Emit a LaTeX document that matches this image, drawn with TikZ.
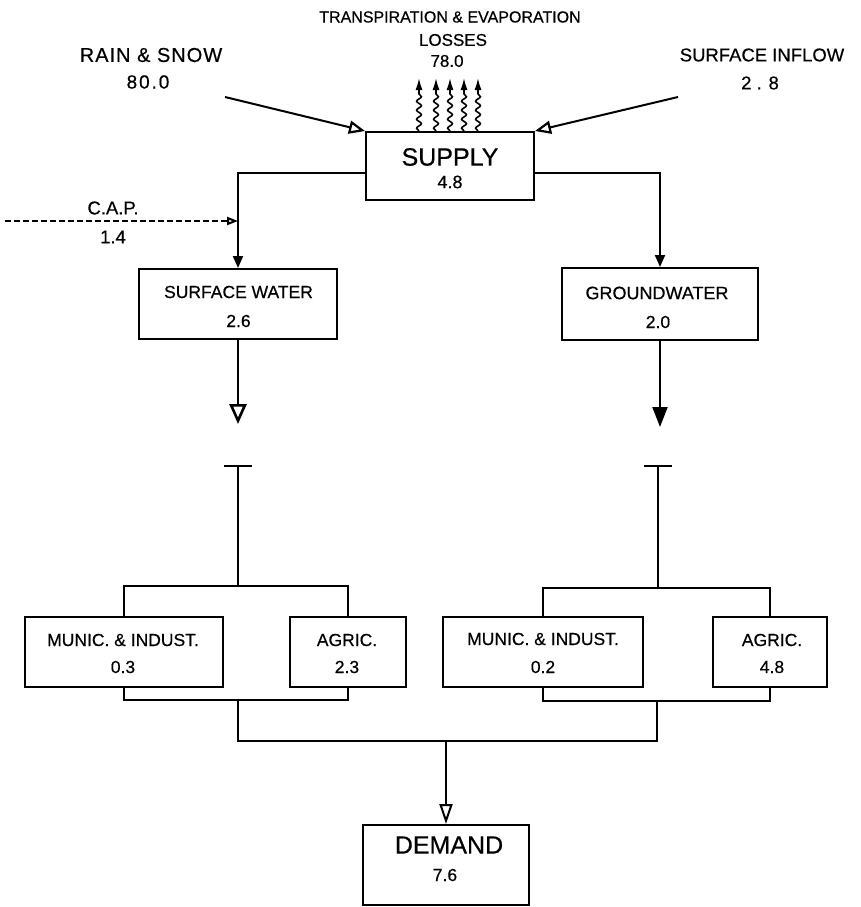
\documentclass[tikz,border=0pt]{standalone}
\usepackage{fontspec}
\setmainfont{Liberation Sans}[FakeBold=0.5]
\usetikzlibrary{arrows.meta,decorations.pathmorphing,calc}
\newcommand\myfs[1]{\fontsize{#1}{#1}\selectfont}
\begin{document}
\begin{tikzpicture}[x=1pt,y=-1pt,line width=2pt,
  box/.style={draw,line width=2pt,inner sep=0pt},
  txt/.style={inner sep=0pt,font=\myfs{17.5}},
  smallfill/.style={-{Triangle[length=12pt,width=10pt]}},
  bigfill/.style={-{Triangle[length=20pt,width=15pt]}},
  bigopen/.style={-{Triangle[open,length=20pt,width=17pt,line width=2.6pt]}},
  inopen/.style={-{Triangle[open,length=16pt,width=13pt,line width=2.2pt]}},
  demopen/.style={-{Triangle[open,length=20pt,width=13pt]}},
  capline/.style={dash pattern=on 6pt off 3pt,line width=2pt,-{Triangle[open,length=11pt,width=8pt]}},
  wavy/.style={decorate,decoration={snake,amplitude=2.4pt,segment length=9pt,post length=15pt},-{Latex[length=12pt,width=7pt]},line width=1.6pt},
  tbar/.style={{Bar[width=28pt]}-}
]
\useasboundingbox (0,0) rectangle (860,907);

% boxes
\node[box,minimum width=168pt,minimum height=68pt] (supply) at (450,166) {};
\node[box,minimum width=198pt,minimum height=70pt] (sw) at (238,304) {};
\node[box,minimum width=196pt,minimum height=72pt] (gw) at (660,304) {};
\node[box,minimum width=198pt,minimum height=70pt] (m1) at (124,652) {};
\node[box,minimum width=116pt,minimum height=70pt] (a1) at (348,652) {};
\node[box,minimum width=200pt,minimum height=70pt] (m2) at (543,652) {};
\node[box,minimum width=114pt,minimum height=70pt] (a2) at (770,652) {};
\node[box,minimum width=166pt,minimum height=80pt] (demand) at (446,865) {};

% texts
\node[txt,font=\myfs{16}] (tt1) at (450,17) {TRANSPIRATION \& EVAPORATION};
\node[txt,font=\myfs{17}] (tt2) at (453,40) {LOSSES};
\node[txt,font=\myfs{17}] (tt3) at (447,61) {78.0};
\node[txt,font=\myfs{20}\addfontfeatures{LetterSpace=5}] (rainT) at (151,55) {RAIN \& SNOW};
\node[txt,font=\myfs{19}\addfontfeatures{LetterSpace=10}] (rainN) at (148,82) {80.0};
\node[txt,font=\myfs{18.5}] (infT) at (762,55) {SURFACE INFLOW};
\node[txt,font=\myfs{18.5}] (infN) at (760,83) {2 . 8};
\node[txt,font=\myfs{25}] (supT) at (450,157) {SUPPLY};
\node[txt,font=\myfs{18}] (supN) at (450,182) {4.8};
\node[txt,font=\myfs{18.5}] (capT) at (113,208) {C.A.P.};
\node[txt,font=\myfs{18.5}] (capN) at (113,237) {1.4};
\node[txt,font=\myfs{17.5}] (swT) at (238.5,292) {SURFACE WATER};
\node[txt] (swN) at (238.5,321) {2.6};
\node[txt,font=\myfs{18}] (gwT) at (657,293) {GROUNDWATER};
\node[txt] (gwN) at (658,322) {2.0};
\node[txt] (m1T) at (123,640) {MUNIC. \& INDUST.};
\node[txt] (m1N) at (123,667) {0.3};
\node[txt] (a1T) at (347,640) {AGRIC.};
\node[txt] (a1N) at (347,667) {2.3};
\node[txt] (m2T) at (543,639) {MUNIC. \& INDUST.};
\node[txt] (m2N) at (543,667) {0.2};
\node[txt] (a2T) at (772,640) {AGRIC.};
\node[txt] (a2N) at (772,667) {4.8};
\node[txt,font=\myfs{25}] (demT) at (449,845) {DEMAND};
\node[txt] (demN) at (445,875) {7.6};

% inflows
\coordinate (rain) at (225,97);
\coordinate (inflow) at (678,97);
\draw[inopen] (rain) -- (supply.north west);
\draw[inopen] (inflow) -- (supply.north east);

% losses
\foreach \dx in {-31,-14,0,14,28}
  \draw[wavy] ([xshift=\dx pt]supply.north) -- ++(0,-53);

% supply split
\draw[smallfill] ([yshift=-7pt]supply.west) -| (sw.north);
\draw[smallfill] ([yshift=-7pt]supply.east) -| (gw.north);

% CAP
\coordinate (cap) at (5,221);
\draw[capline] (cap) -- (cap -| sw.north);

% down arrows
\draw[bigopen] (sw.south) -- ++(0,84);
\draw[bigfill] (gw.south) -- ++(0,86);

% T bars and brackets
\coordinate (t1) at (238,465);
\coordinate (t2) at (658,465);
\draw[tbar] (t1) -- ++(0,122);
\draw[tbar] (t2) -- ++(0,124);
\draw (m1.north) -- ++(0,-30) -| (a1.north);
\draw (m2.north) -- ++(0,-28) -| (a2.north);
\draw (m1.south) -- ++(0,12) -| (a1.south);
\draw (m2.south) -- ++(0,13) -| (a2.south);

% to demand
\coordinate (j1) at (238,699);
\coordinate (j2) at (657,700);
\coordinate (jm) at (446,741);
\draw (j1) |- (jm) -| (j2);
\draw[demopen] (jm) -- (demand.north);
\end{tikzpicture}
\end{document}
